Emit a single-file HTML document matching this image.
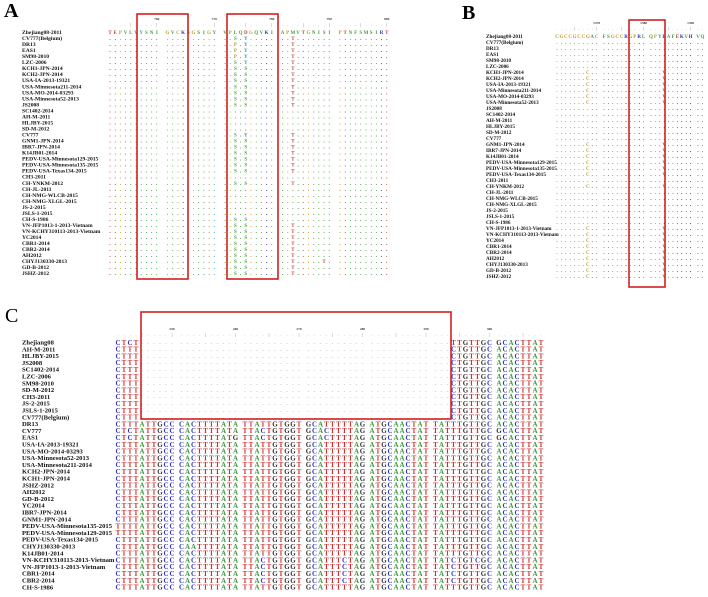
<!DOCTYPE html>
<html><head><meta charset="utf-8"><style>
html,body{margin:0;padding:0;background:#fff;}
svg{display:block;font-family:"Liberation Serif",serif;}
</style></head>
<body>
<svg id="fig" width="708" height="597" viewBox="0 0 708 597">
<text x="4" y="17" font-size="20" font-weight="bold">A</text>
<text x="462" y="19" font-size="20" font-weight="bold">B</text>
<text x="5" y="322" font-size="20">C</text>
</svg>
<script>
// ---------- data ----------
const namesAB = ["Zhejiang08-2011","CV777(Belgium)","DR13","EAS1","SM98-2010","LZC-2006","KCH1-JPN-2014","KCH2-JPN-2014","USA-IA-2013-19321","USA-Minnesota211-2014","USA-MO-2014-03293","USA-Minnesota52-2013","JS2008","SC1402-2014","AH-M-2011","HLJBY-2015","SD-M-2012","CV777","GNM1-JPN-2014","IBR7-JPN-2014","K14JB01-2014","PEDV-USA-Minnesota129-2015","PEDV-USA-Minnesota135-2015","PEDV-USA-Texas134-2015","CH3-2011","CH-YNKM-2012","CH-JL-2011","CH-NMG-WLCB-2015","CH-NMG-XLGL-2015","JS-2-2015","JSLS-1-2015","CH-S-1986","VN-JFP1013-1-2013-Vietnam","VN-KCHY310113-2013-Vietnam","YC2014","CBR1-2014","CBR2-2014","AH2012","CHYJ130330-2013","GD-B-2012","JSHZ-2012"];
const refA = "TEPVLVYSNIGVCKSGSIGYVPLQDGQVKIAPMVTGNISIPTNFSMSIRT";
const ticksA = [760,770,780,790,800];
// variants: [row, column, residue]
const varA = [
[1,22,"S"],[1,24,"Y"],[1,32,"T"],[2,22,"P"],[2,24,"Y"],[2,32,"T"],[3,22,"P"],[3,24,"Y"],[3,32,"T"],[4,22,"P"],[4,24,"Y"],[4,32,"T"],[5,22,"S"],[5,24,"Y"],[5,32,"T"],
[6,22,"S"],[6,24,"S"],[6,32,"T"],[7,22,"S"],[7,24,"S"],[7,32,"T"],[8,22,"S"],[8,24,"S"],[8,32,"T"],[9,22,"S"],[9,24,"S"],[9,32,"T"],[10,22,"S"],[10,24,"S"],[10,32,"T"],[11,22,"S"],[11,24,"S"],[11,32,"T"],[12,22,"S"],[12,24,"S"],[12,32,"T"],
[17,22,"S"],[17,24,"Y"],[17,32,"T"],[18,22,"S"],[18,24,"S"],[18,32,"T"],[19,22,"S"],[19,24,"S"],[19,32,"T"],[20,22,"S"],[20,24,"S"],[20,32,"T"],[21,22,"S"],[21,24,"S"],[21,32,"T"],[22,22,"S"],[22,24,"S"],[22,32,"T"],[23,22,"S"],[23,24,"S"],[23,32,"T"],
[25,22,"S"],[25,24,"S"],[25,32,"T"],[31,22,"S"],[31,24,"S"],
[32,22,"S"],[32,24,"S"],[32,32,"T"],[33,22,"S"],[33,24,"S"],[33,32,"T"],[34,22,"S"],[34,24,"S"],[34,32,"T"],[35,22,"S"],[35,24,"S"],[35,32,"T"],[36,22,"S"],[36,24,"S"],[36,32,"T"],[37,22,"S"],[37,24,"S"],[37,32,"T"],[38,22,"S"],[38,24,"S"],[38,32,"T"],[38,38,"T"],[39,22,"S"],[39,24,"S"],[39,32,"T"],[40,22,"S"],[40,24,"S"],[40,32,"T"]
];
const refB = "CGCCGCCGACFSGCCRGPRLQPYRAFEKVHVQ";
const ticksB = [1370,1380,1390];
const varRowsB = [6,7,8,9,10,11,18,19,20,21,22,23,25,32,33,34,35,36,37,38,39,40];
const namesC = ["Zhejiang08","AH-M-2011","HLJBY-2015","JS2008","SC1402-2014","LZC-2006","SM98-2010","SD-M-2012","CH3-2011","JS-2-2015","JSLS-1-2015","CV777(Belgium)","DR13","CV777","EAS1","USA-IA-2013-19321","USA-MO-2014-03293","USA-Minnesota52-2013","USA-Minnesota211-2014","KCH2-JPN-2014","KCH1-JPN-2014","JSHZ-2012","AH2012","GD-B-2012","YC2014","IBR7-JPN-2014","GNM1-JPN-2014","PEDV-USA-Minnesota135-2015","PEDV-USA-Minnesota129-2015","PEDV-USA-Texas134-2015","CHYJ130330-2013","K14JB01-2014","VN-KCHY310113-2013-Vietnam","VN-JFP1013-1-2013-Vietnam","CBR1-2014","CBR2-2014","CH-S-1986"];
const GAP = "-".repeat(49);
const BASE = "CTTTATTGCC CACTTTTATA TTATTGTGGT GCATTTTTAG ATGCAACTAT TATTTGTTGC ACACTTAT";
const seqsC = [
"CTCT"+GAP+"TTGTTGC GCACTTAT",
"CTTT"+GAP+"CTGTTGC ACACTTAT","CTTT"+GAP+"CTGTTGC ACACTTAT","CTTT"+GAP+"CTGTTGC ACACTTAT","CTTT"+GAP+"CTGTTGC ACACTTAT","CTTT"+GAP+"CTGTTGC ACACTTAT","CTTT"+GAP+"CTGTTGC ACACTTAT","CTTT"+GAP+"CTGTTGC ACACTTAT","CTTT"+GAP+"CTGTTGC ACACTTAT","CTTT"+GAP+"CTGTTGC ACACTTAT","CTTT"+GAP+"CTGTTGC ACACTTAT","CTTT"+GAP+"CTGTTGC ACACTTAT",
BASE,
"CTCTATTGCC CACTTTTATA TTACTGTGGT GCACTTTTAG ATGCAACTAT TATTTGTTGC GCACTTAT",
"CTCTATTGCC CACTTTTATG TTACTGTGGT GCACTTTTAG ATGCAACTAT TATTTGTTGC GCACTTAT",
BASE,BASE,BASE,BASE,BASE,BASE,BASE,BASE,BASE,BASE,BASE,BASE,
"TTTTATTGCC CACTTTTATA TTATTGTGGT GCATTTTTAG ATGCAACTAT TATTTGTTGC ACACTTAT",
"TTTTATTGCC CACTTTTATA TTATTGTGGT GCATTTTTAG ATGCAACTAT TATTTGTTGC ACACTTAT",
BASE,
"CTTTATTGCC CAATTTTATA TTATTGTGGT GCATTTTTAG ATGCAACTAT TATTTGTTGC ACACTTAT",
BASE,
"CTTTATTGCC CACTTTTATA TTACTGTGGT GCATTTCTAG ATGCAACTAT TATCTGTCGC ACACTTAT",
"CTTTATTGCC CACTTTTATA TTACTGTGGT GCATTTCTAG ATGCAACTAT TATCTGTTGC ACACTTAT",
"CTTTATTGCC CACTTTTATA TTACTGTGGT GCATTTCTAG ATGCAACTAT TATCTGTTGC ACACTTAT",
"CTTTATTGCC CACTTTTATA TTACTGTGGT GCATTTCTAG ATGCAACTAT TATCTGTTGC ACACTTAT",
BASE
];
const ticksC = [250,260,270,280,290,300];

// ---------- drawing ----------
const svg = document.getElementById('fig');
const NS = "http://www.w3.org/2000/svg";
const ntColor = {A:"#3f9a3f",C:"#3434c8",G:"#333333",T:"#c83232","-":"#aaaaaa"};
const aaColor = {T:"#c04040",E:"#c04040",D:"#c04040",P:"#b0a020",Y:"#30a0a0",L:"#40a040",V:"#40a040",I:"#40a040",M:"#40a040",A:"#40a040",F:"#40a040",S:"#40a040",N:"#40a040",Q:"#40a040",G:"#d09020",C:"#c0a030",K:"#3030c0",R:"#3030c0",H:"#3030c0",W:"#40a040"};
function txt(x,y,s,size,fill,anchor,weight){
  const t=document.createElementNS(NS,"text");
  t.setAttribute("x",x.toFixed(1));t.setAttribute("y",y.toFixed(1));
  t.setAttribute("font-size",size);t.setAttribute("fill",fill);
  if(anchor)t.setAttribute("text-anchor",anchor);
  if(weight)t.setAttribute("font-weight",weight);
  t.textContent=s;svg.appendChild(t);return t;
}
function rect(x,y,w,h,name){
  const r=document.createElementNS(NS,"rect");
  r.setAttribute("x",x);r.setAttribute("y",y);r.setAttribute("width",w);r.setAttribute("height",h);
  r.setAttribute("fill","none");r.setAttribute("stroke","#d42020");r.setAttribute("stroke-width","1.6");
  
  
  svg.appendChild(r);
}
function ruler(x0,bp,cp,n,y,ticks,first){
  for(let i=0;i<n;i++){
    const x=x0+Math.floor(i/10)*bp+(i%10)*cp;
    const mark=(i%5===4)?"|":".";
    const t=txt(x,y,mark,4,"#555","middle");
    
    
  }
  ticks.forEach((v,k)=>{
    const i=first+k*10;
    const x=x0+Math.floor(i/10)*bp+(i%10)*cp;
    const t=txt(x,y-6,String(v),3.5,"#333","middle","bold");
    
    
  });
}
function protPanel(names,ref,variants,x0,bp,cp,y0,rp,nx,fs,ticks,firstTick,panel){
  ruler(x0,bp,cp,ref.length,y0-6,ticks,firstTick);
  names.forEach((nm,r)=>{
    const y=y0+r*rp;
    const n=txt(nx,y+2,nm,fs,"#111",null,"bold");
    
    
    for(let i=0;i<ref.length;i++){
      const x=x0+Math.floor(i/10)*bp+(i%10)*cp;
      let ch=".";
      const v=variants(r,i);
      if(r===0)ch=ref[i]; else if(v)ch=v;
      const col=aaColor[r===0?ref[i]:(v||ref[i])]||"#666";
      const t=txt(x,y+2,ch,ch==="."?6:5,col,"middle","bold");
      
      
    }
  });
}
// Panel A
protPanel(namesAB,refA,(r,i)=>{const f=varA.find(v=>v[0]===r&&v[1]===i);return f?f[2]:null;},
  110,57.5,5.2,32,6.03,22,5.6,ticksA,9,"panel-a");
rect(137,14,51,265,"highlight-box-a1");
rect(227,14,51,265,"highlight-box-a2");
// Panel B
protPanel(namesAB,refB,(r,i)=>{
  if(varRowsB.includes(r)){ if(i===7)return "C"; if(i===23)return "V"; }
  return null;},
  557,47,4.4,36,6.0,486,5.2,ticksB,9,"panel-b");
rect(629,20,36,267,"highlight-box-b");
// Panel C
ruler(118,63.5,6.0,68,336,ticksC,9);
namesC.forEach((nm,r)=>{
  const y=342+r*6.8;
  const n=txt(22,y+2.5,nm,6.6,"#111",null,"bold");
  
  
  const s=seqsC[r].replace(/ /g,"");
  for(let i=0;i<s.length;i++){
    const x=118+Math.floor(i/10)*63.5+(i%10)*6.0;
    const ch=s[i];
    const t=txt(x,y+2.8,ch,ch==="-"?5:7,ntColor[ch]||"#333","middle","bold");
    
    
  }
});
rect(141,312,310,107,"highlight-box-c");
</script>
</body></html>
